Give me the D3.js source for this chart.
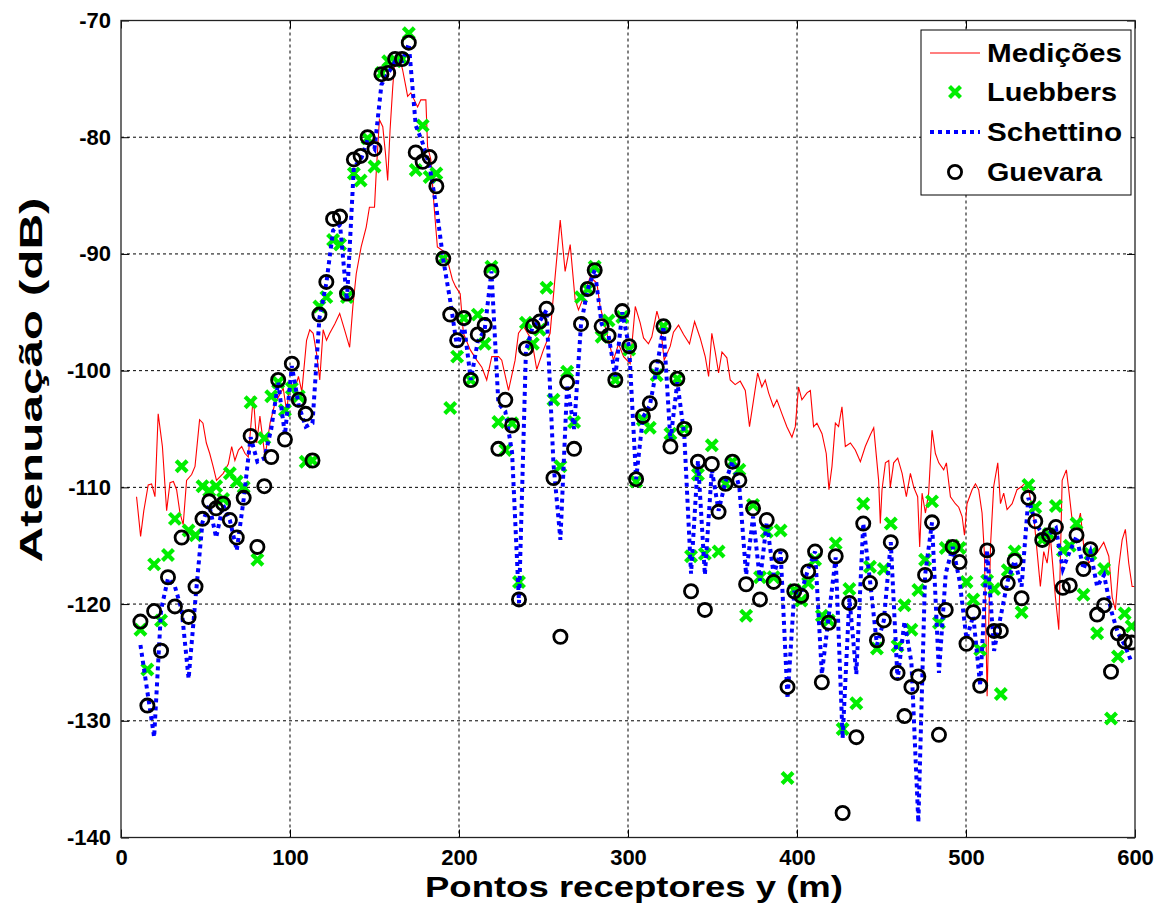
<!DOCTYPE html>
<html><head><meta charset="utf-8">
<script src="https://cdn.jsdelivr.net/npm/d3@7"></script>
<style>
body{margin:0;background:#fff}
text{font-family:"Liberation Sans",Arial,Helvetica,sans-serif;font-weight:bold;fill:#000}
</style>
</head><body>
<svg id="chart" width="1168" height="915"></svg>
<script>
// ---------------- DATA ----------------
const xTicks = [0, 100, 200, 300, 400, 500, 600];
const yTicks = [-140, -130, -120, -110, -100, -90, -80, -70];
const seriesNames = ["Medições", "Luebbers", "Schettino", "Guevara"];
const xTitle = "Pontos receptores y (m)";
const yTitle = "Atenuação (dB)";

// receiver positions (m) shared by the three models
const positions = [11.5,15.6,19.6,23.7,27.8,31.9,35.9,40.0,44.1,48.2,52.2,56.3,60.4,64.4,68.5,72.6,76.7,80.7,84.8,88.9,
93.0,97.0,101.1,105.2,109.3,113.3,117.4,121.5,125.5,129.6,133.7,137.8,141.8,145.9,150.0,154.1,158.1,162.2,166.3,170.3,
174.4,178.5,182.6,186.6,190.7,194.8,198.9,202.9,207.0,211.1,215.2,219.2,223.3,227.4,231.4,235.5,239.6,243.7,247.7,251.8,
255.9,260.0,264.0,268.1,272.2,276.2,280.3,284.4,288.5,292.5,296.6,300.7,304.8,308.8,312.9,317.0,321.0,325.1,329.2,333.3,
337.3,341.4,345.5,349.6,353.6,357.7,361.8,365.9,369.9,374.0,378.1,382.1,386.2,390.3,394.4,398.4,402.5,406.6,410.7,414.7,
418.8,422.9,427.0,431.0,435.1,439.2,443.2,447.3,451.4,455.5,459.5,463.6,467.7,471.8,475.8,479.9,484.0,488.0,492.1,496.2,
500.3,504.3,508.4,512.5,516.6,520.6,524.7,528.8,532.9,536.9,541.0,545.1,549.1,553.2,557.3,561.4,565.4,569.5,573.6,577.6,
581.7,585.8,589.9,593.9,598.0];

const guevara = [-121.5,-128.7,-120.6,-124.0,-117.7,-120.2,-114.3,-121.1,-118.5,-112.7,
-111.2,-111.8,-111.4,-112.8,-114.3,-110.9,-105.6,-115.1,-109.9,-107.4,
-100.8,-105.9,-99.4,-102.5,-103.7,-107.7,-95.2,-92.4,-87.0,-86.8,
-93.4,-81.9,-81.6,-80.0,-81.0,-74.6,-74.5,-73.3,-73.3,-71.9,
-81.3,-82.1,-81.7,-84.2,-90.4,-95.2,-97.4,-95.5,-100.8,-96.9,
-96.1,-91.5,-106.7,-102.5,-104.7,-119.6,-98.1,-96.2,-95.8,-94.7,
-109.2,-122.8,-101.0,-106.7,-96.0,-93.0,-91.4,-96.2,-97.0,-100.8,
-94.9,-97.9,-109.3,-103.9,-102.8,-99.7,-96.2,-106.5,-100.7,-105.0,
-118.9,-107.8,-120.5,-108.0,-112.1,-109.7,-107.8,-109.4,-118.3,-111.8,
-119.6,-112.8,-118.1,-115.9,-127.1,-118.9,-119.3,-117.2,-115.5,-126.7,
-121.6,-115.9,-137.9,-119.9,-131.4,-113.1,-118.2,-123.1,-121.4,-114.7,
-125.9,-129.6,-127.1,-126.2,-117.5,-113.0,-131.2,-120.5,-115.1,-116.4,
-123.4,-120.7,-127.0,-115.4,-122.3,-122.3,-118.2,-116.3,-119.5,-110.9,
-112.9,-114.5,-114.1,-113.4,-118.6,-118.4,-114.1,-117.0,-115.3,-120.9,
-120.1,-125.8,-122.5,-123.2,-123.3];

const luebbers = [-122.2,-125.6,-116.6,-121.4,-115.8,-112.7,-108.2,-113.7,-114.1,-109.9,
-110.3,-109.9,-111.0,-108.8,-109.5,-110.0,-102.7,-116.2,-105.8,-102.2,
-101.0,-103.4,-101.5,-102.2,-107.8,-107.7,-94.5,-93.7,-88.8,-89.2,
-93.7,-83.1,-83.7,-80.1,-82.5,-74.5,-73.5,-73.5,-73.3,-71.1,
-82.8,-79.0,-83.4,-83.1,-90.4,-103.2,-98.8,-95.5,-100.8,-95.2,
-97.7,-91.1,-104.4,-106.8,-104.5,-118.1,-95.9,-97.7,-96.5,-92.9,
-102.5,-108.2,-100.1,-104.4,-93.7,-93.0,-91.1,-97.1,-95.7,-100.8,
-95.4,-98.2,-109.5,-104.2,-104.9,-100.4,-96.2,-105.4,-100.7,-105.0,
-115.9,-108.9,-115.7,-106.4,-115.5,-109.7,-107.8,-108.5,-121.0,-111.5,
-117.7,-113.8,-117.7,-113.7,-134.9,-118.8,-119.7,-118.2,-116.2,-121.0,
-121.4,-114.8,-130.7,-118.7,-128.5,-111.4,-116.8,-123.8,-117.0,-113.1,
-123.6,-120.1,-122.2,-118.8,-116.2,-111.2,-121.6,-115.2,-115.0,-115.2,
-118.1,-119.6,-123.9,-118.0,-118.7,-127.7,-117.1,-115.5,-120.7,-109.8,
-111.7,-114.5,-114.0,-111.6,-115.4,-115.0,-113.1,-119.2,-115.7,-122.5,
-117.0,-129.8,-124.5,-120.8,-121.9];

const schettino = [-123.5,-127.5,-131.4,-120.5,-117.8,-118.5,-120.5,-126.4,-119.5,-113.0,
-111.5,-114.3,-111.5,-112.8,-115.4,-111.0,-105.7,-107.8,-107.5,-105.0,
-101.0,-105.5,-99.6,-103.0,-104.8,-104.5,-95.5,-92.5,-88.0,-87.5,
-94.0,-82.5,-82.0,-80.2,-81.0,-75.5,-74.5,-73.5,-73.5,-72.0,
-79.0,-80.5,-82.5,-86.0,-90.5,-94.0,-98.0,-96.0,-100.8,-97.5,
-96.5,-91.5,-102.8,-103.5,-107.0,-119.9,-98.3,-96.2,-95.8,-94.8,
-108.0,-114.5,-101.2,-105.0,-96.0,-93.0,-91.4,-96.0,-97.0,-100.5,
-95.0,-98.0,-109.3,-104.0,-103.0,-99.8,-96.2,-106.0,-101.0,-105.5,
-117.4,-107.7,-117.5,-108.5,-112.0,-109.5,-107.8,-110.0,-117.5,-112.5,
-118.0,-113.0,-117.5,-115.5,-128.1,-119.0,-119.0,-117.0,-115.5,-126.0,
-121.0,-116.0,-131.5,-119.5,-126.0,-113.1,-118.0,-123.5,-121.4,-114.7,
-126.5,-121.5,-125.0,-138.7,-117.5,-113.0,-125.9,-117.4,-115.1,-118.0,
-123.0,-121.0,-127.0,-115.4,-124.0,-121.0,-118.0,-116.3,-118.5,-110.9,
-113.0,-114.0,-114.0,-113.5,-117.0,-115.5,-114.2,-117.0,-115.5,-118.5,
-117.5,-120.5,-122.5,-123.5,-125.0];

// measured attenuation: [position (m), dB]
const medicoes = [[9.2,-110.8],[11.6,-114.2],[13.5,-112.0],[16.1,-109.8],[18.1,-109.7],[20.1,-110.8],[22.0,-103.7],[24.5,-106.5],[27.0,-112.0],[29.0,-109.6],
[31.0,-109.5],[32.9,-110.2],[34.9,-112.2],[36.8,-113.2],[38.8,-109.4],[41.8,-108.9],[43.8,-108.2],[46.5,-104.2],[48.5,-104.5],[50.5,-106.2],
[52.5,-107.1],[54.5,-108.2],[56.5,-109.4],[58.5,-109.1],[60.5,-108.8],[63.5,-108.0],[65.5,-106.5],[67.4,-107.7],[69.5,-106.8],[71.4,-106.5],
[73.4,-107.1],[75.3,-107.4],[78.3,-102.2],[80.3,-106.2],[82.2,-103.9],[85.2,-107.4],[88.2,-104.5],[91.1,-102.8],[94.1,-102.0],[96.0,-101.5],
[98.0,-103.5],[100.0,-101.0],[103.0,-101.5],[105.0,-100.5],[107.0,-101.8],[109.8,-97.4],[111.7,-96.5],[113.7,-96.8],[115.7,-98.5],[117.6,-100.8],
[119.6,-96.5],[121.6,-97.4],[123.5,-96.8],[126.5,-96.0],[129.4,-95.1],[132.3,-96.5],[135.3,-98.0],[137.2,-94.5],[139.2,-91.7],[142.1,-89.4],
[145.1,-87.7],[147.0,-86.0],[150.0,-86.0],[151.0,-83.1],[152.9,-78.5],[154.9,-79.1],[156.5,-81.4],[157.8,-83.7],[159.2,-79.4],[160.8,-75.7],
[161.7,-74.0],[163.7,-73.2],[165.7,-73.7],[166.6,-74.2],[168.6,-75.7],[169.6,-76.5],[171.5,-76.2],[173.5,-76.8],[175.5,-77.4],[177.4,-76.8],
[180.4,-76.8],[181.4,-80.8],[183.3,-81.9],[185.3,-86.0],[187.2,-89.4],[190.2,-89.7],[193.1,-90.5],[196.1,-92.2],[198.0,-92.8],[200.7,-93.4],
[202.6,-96.8],[206.6,-98.2],[210.5,-99.1],[213.5,-99.7],[216.4,-100.8],[219.4,-98.8],[223.4,-98.8],[225.3,-99.1],[229.3,-101.7],[233.2,-99.1],
[235.2,-96.8],[238.1,-96.2],[243.1,-97.4],[246.0,-99.9],[250.0,-98.2],[253.9,-96.8],[256.9,-91.9],[259.9,-87.1],[262.8,-91.5],[265.8,-89.2],
[268.7,-93.9],[270.7,-94.8],[273.7,-93.7],[277.6,-92.0],[281.6,-92.5],[283.5,-94.5],[287.5,-96.8],[291.4,-99.1],[294.4,-97.7],[297.4,-98.8],
[301.3,-99.4],[304.3,-94.5],[307.2,-95.9],[309.2,-97.2],[312.1,-97.7],[314.1,-97.1],[317.1,-94.9],[319.0,-95.9],[321.4,-99.1],[325.0,-97.9],
[326.9,-96.7],[329.9,-96.1],[332.9,-96.9],[336.4,-97.7],[339.4,-95.8],[342.7,-97.2],[345.7,-98.8],[347.7,-100.5],[349.6,-96.8],[351.6,-98.4],
[353.6,-100.2],[355.6,-98.4],[358.5,-98.9],[360.5,-100.8],[363.4,-101.2],[366.4,-100.9],[369.4,-101.7],[371.9,-104.8],[374.3,-102.5],[376.7,-100.2],
[379.2,-101.4],[381.2,-100.8],[383.2,-101.9],[386.1,-103.1],[388.1,-102.5],[391.1,-103.7],[394.0,-104.8],[397.0,-105.7],[399.0,-104.8],[400.9,-101.4],
[402.9,-102.5],[405.9,-101.9],[407.9,-101.7],[409.8,-104.8],[411.8,-104.5],[414.8,-105.4],[417.3,-107.1],[418.9,-110.2],[420.7,-108.2],[422.7,-104.5],
[424.6,-104.8],[426.6,-103.1],[428.6,-106.5],[431.6,-106.2],[434.5,-106.8],[437.5,-107.8],[440.4,-106.5],[443.4,-105.5],[445.4,-104.9],[448.3,-109.4],
[449.3,-113.1],[450.3,-110.2],[452.3,-107.9],[454.3,-107.7],[455.2,-110.0],[457.2,-107.9],[459.6,-107.5],[462.2,-108.8],[464.7,-110.8],[467.1,-108.8],
[469.1,-110.0],[471.4,-110.8],[472.6,-115.1],[474.0,-110.5],[476.0,-112.2],[477.9,-110.5],[479.9,-105.1],[481.9,-107.1],[483.9,-107.9],[486.8,-108.5],
[488.4,-107.9],[490.8,-110.8],[493.7,-111.4],[495.7,-111.7],[497.7,-112.5],[499.1,-114.1],[500.6,-111.4],[503.6,-110.2],[505.6,-109.7],[507.5,-110.2],
[509.5,-112.2],[510.9,-115.7],[512.5,-127.9],[514.5,-115.0],[516.4,-109.9],[518.8,-107.9],[520.4,-111.4],[522.3,-110.5],[524.3,-111.9],[527.3,-111.4],
[530.2,-110.2],[533.2,-109.9],[535.2,-109.6],[537.5,-110.5],[540.1,-112.5],[542.0,-115.4],[544.0,-118.5],[546.0,-115.5],[548.0,-116.5],[549.9,-114.2],
[552.9,-119.4],[554.9,-122.2],[556.9,-109.4],[559.4,-108.5],[560.8,-110.2],[562.8,-112.8],[565.7,-113.4],[567.7,-112.2],[569.7,-115.1],[572.6,-116.5],
[575.0,-116.0],[578.0,-115.5],[581.5,-114.7],[584.5,-115.9],[586.5,-119.4],[588.4,-120.5],[590.4,-116.8],[592.4,-114.5],[594.3,-113.6],[596.3,-116.5],
[598.3,-118.5],[599.6,-118.5]];

// ---------------- CHART ----------------
const W = 1168, H = 915;
const L = 121, R = 1135, T = 20.5, B = 837.5;
const svg = d3.select("#chart");
svg.append("rect").attr("width", W).attr("height", H).attr("fill", "#fff");

const x = d3.scaleLinear().domain([0, 600]).range([L, R]);
const y = d3.scaleLinear().domain([-140, -70]).range([B, T]);

const colors = {med: "#ff0000", lue: "#00ee00", sch: "#0000ff", gue: "#000000"};

// grid
const grid = svg.append("g").attr("stroke", "#000").attr("stroke-width", 1).attr("stroke-dasharray", "3,3");
xTicks.slice(1, -1).forEach(t => grid.append("line").attr("x1", x(t)).attr("x2", x(t)).attr("y1", T).attr("y2", B));
yTicks.slice(1, -1).forEach(t => grid.append("line").attr("x1", L).attr("x2", R).attr("y1", y(t)).attr("y2", y(t)));

// axes via d3 axis (ticks inward), plus mirrored top/right
const fmt = d3.format("d");
const axB = svg.append("g").attr("transform", `translate(0,${B})`)
  .call(d3.axisBottom(x).tickValues(xTicks).tickSize(-8).tickPadding(12).tickFormat(fmt));
const axL = svg.append("g").attr("transform", `translate(${L},0)`)
  .call(d3.axisLeft(y).tickValues(yTicks).tickSize(-8).tickPadding(10).tickFormat(d => d3.format("d")(d).replace("−", "-")));
const axT = svg.append("g").attr("transform", `translate(0,${T})`)
  .call(d3.axisTop(x).tickValues(xTicks).tickSize(-8).tickFormat(""));
const axR = svg.append("g").attr("transform", `translate(${R},0)`)
  .call(d3.axisRight(y).tickValues(yTicks).tickSize(-8).tickFormat(""));
[axB, axL, axT, axR].forEach(a => {
  a.select(".domain").remove();
  a.selectAll("line").attr("stroke", "#000").attr("stroke-width", 1);
  a.selectAll("text").attr("font-size", 22).attr("font-weight", "bold")
    .attr("font-family", '"Liberation Sans",Arial,sans-serif').attr("fill", "#000");
});
axB.selectAll("text").attr("dy", "0.71em");

// plot clip
svg.append("clipPath").attr("id", "clip").append("rect")
  .attr("x", L).attr("y", T).attr("width", R - L).attr("height", B - T);
const plot = svg.append("g").attr("clip-path", "url(#clip)");

// Medições (red thin line)
plot.append("path").datum(medicoes)
  .attr("fill", "none").attr("stroke", colors.med).attr("stroke-width", 1.1)
  .attr("d", d3.line().x(d => x(d[0])).y(d => y(d[1])));

// Luebbers (green x markers)
const crossPath = "M-5.5,-5.5L5.5,5.5M-5.5,5.5L5.5,-5.5";
plot.append("g").selectAll("path").data(luebbers).join("path")
  .attr("transform", (d, i) => `translate(${x(positions[i])},${y(d)})`)
  .attr("d", crossPath).attr("fill", "none")
  .attr("stroke", colors.lue).attr("stroke-width", 4.2);

// Schettino (blue dotted line)
plot.append("path").datum(schettino)
  .attr("fill", "none").attr("stroke", colors.sch).attr("stroke-width", 4)
  .attr("stroke-dasharray", "4,4")
  .attr("d", d3.line().x((d, i) => x(positions[i])).y(d => y(d)));

// Guevara (black circles)
plot.append("g").selectAll("circle").data(guevara).join("circle")
  .attr("cx", (d, i) => x(positions[i])).attr("cy", d => y(d)).attr("r", 6.6)
  .attr("fill", "none").attr("stroke", colors.gue).attr("stroke-width", 2.8);

// frame
svg.append("rect").attr("x", L).attr("y", T).attr("width", R - L).attr("height", B - T)
  .attr("fill", "none").attr("stroke", "#222").attr("stroke-width", 1.3);

// axis titles
svg.append("text").attr("x", (L + R) / 2 + 6).attr("y", 897).attr("text-anchor", "middle")
  .attr("font-size", 30).attr("textLength", 418).attr("lengthAdjust", "spacingAndGlyphs").text(xTitle);
svg.append("text").attr("transform", `translate(42,380) rotate(-90)`).attr("text-anchor", "middle")
  .attr("font-size", 32).attr("textLength", 365).attr("lengthAdjust", "spacingAndGlyphs").text(yTitle);

// legend
const lg = svg.append("g");
lg.append("rect").attr("x", 921).attr("y", 30).attr("width", 210).attr("height", 165)
  .attr("fill", "#fff").attr("stroke", "#000").attr("stroke-width", 1);
const rowY = [53, 92, 132, 172];
const textW = [135, 130, 135, 115];
seriesNames.forEach((name, k) => {
  lg.append("text").attr("x", 987).attr("y", rowY[k] + 9).attr("font-size", 25)
    .attr("textLength", textW[k]).attr("lengthAdjust", "spacingAndGlyphs").text(name);
});
lg.append("line").attr("x1", 930).attr("x2", 980).attr("y1", rowY[0]).attr("y2", rowY[0])
  .attr("stroke", colors.med).attr("stroke-width", 1.1);
lg.append("path").attr("transform", `translate(955,${rowY[1]})`).attr("d", crossPath)
  .attr("stroke", colors.lue).attr("stroke-width", 4.2).attr("fill", "none");
lg.append("line").attr("x1", 930).attr("x2", 980).attr("y1", rowY[2]).attr("y2", rowY[2])
  .attr("stroke", colors.sch).attr("stroke-width", 4).attr("stroke-dasharray", "4,4");
lg.append("circle").attr("cx", 955).attr("cy", rowY[3]).attr("r", 6.6)
  .attr("fill", "none").attr("stroke", colors.gue).attr("stroke-width", 2.8);
</script>
</body></html>
